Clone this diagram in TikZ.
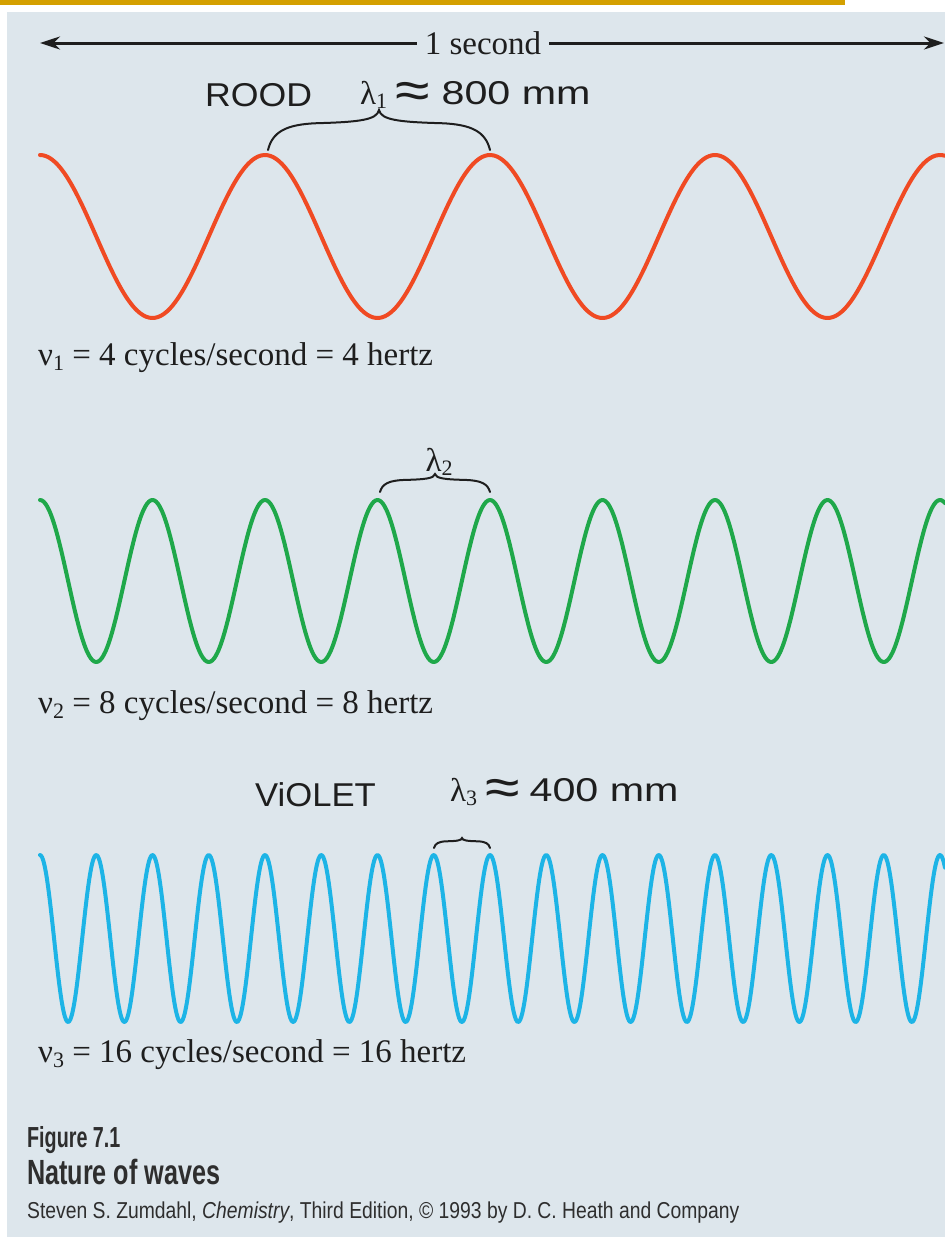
\documentclass[tikz,border=0pt]{standalone}
\usepackage{fontspec}
\setmainfont{Liberation Serif}
\newfontfamily\handfont{Liberation Sans}
\newfontfamily\capfont{Liberation Sans}
\usetikzlibrary{arrows.meta}
\definecolor{bgblue}{HTML}{DDE6EC}
\definecolor{barbrown}{HTML}{D4A000}
\definecolor{wavered}{HTML}{F04A23}
\definecolor{wavegreen}{HTML}{1FA84A}
\definecolor{waveblue}{HTML}{1DB4E6}
\definecolor{inkdark}{HTML}{1E1E1E}
\definecolor{capgrey}{HTML}{2E2E2E}
\newcommand\lowsub[1]{\raisebox{-0.14em}{\fontsize{22}{22}\selectfont #1}}
\newcommand\handwide[1]{\scalebox{1.25}[1]{\handfont #1}}
\newcommand\handapprox{\raisebox{-0.12em}{\scalebox{1.9}[1.6]{\handfont ≈}}}
% brace: left end x, width, bottom y, height
\newcommand\wavebrace[4]{%
  \begin{scope}[shift={(#1,#3)}, xscale=#2, yscale=#4]
    \draw[bracestyle] (0,0) .. controls (0.02,-0.45) and (0.08,-0.64) .. (0.22,-0.67)
      .. controls (0.42,-0.7) and (0.49,-0.76) .. (0.5,-1)
      .. controls (0.51,-0.76) and (0.58,-0.7) .. (0.78,-0.67)
      .. controls (0.92,-0.64) and (0.98,-0.45) .. (1,0);
  \end{scope}}
\begin{document}
\begin{tikzpicture}[x=1pt,y=-1pt,
  wave/.style={line width=4pt, line cap=round, line join=round},
  printed/.style={font=\fontsize{33}{38}\selectfont, text=inkdark, inner sep=0pt},
  hand/.style={font=\handfont\fontsize{33}{38}\selectfont, text=inkdark, inner sep=0pt},
  bracestyle/.style={line width=2pt, draw=inkdark, line cap=round},
  timearrow/.style={line width=3pt, draw=inkdark, -{Stealth[length=20pt,width=13pt]}},
  caption/.style={anchor=west, inner sep=0pt, text=capgrey}
]
\useasboundingbox (0,0) rectangle (945,1237);
\fill[white] (0,0) rectangle (945,1237);
\fill[bgblue] (7,12) rectangle (945,1237);
\fill[barbrown] (0,0) rectangle (845,5);

% time arrow
\node[printed, inner xsep=8pt] (onesec) at (483,43) {1 second};
\coordinate (arrL) at (40,43);
\coordinate (arrR) at (944,43);
\draw[timearrow] (onesec) -- (arrL);
\draw[timearrow] (onesec) -- (arrR);

% red wave
\node[hand, anchor=west] (rood) at (205,95) {\scalebox{1.08}[1]{ROOD}};
\node[printed, anchor=west] (lamone) at (360,95) {λ\lowsub{1}\hspace{8pt}\handapprox\hspace{12pt}\handwide{800 mm}};
\wavebrace{268}{222}{150}{40}
\draw[wave, wavered] plot[domain=40:945, samples=300, smooth] (\x, {236.5 - 81.5*cos((\x-40)/225*360)});
\node[printed, anchor=west] (nuone) at (38,358) {ν\lowsub{1} = 4 cycles/second = 4 hertz};

% green wave
\node[printed] (lamtwo) at (439,462) {λ\lowsub{2}};
\wavebrace{380}{110}{492}{18}
\draw[wave, wavegreen] plot[domain=40:945, samples=500, smooth] (\x, {581 - 81*cos((\x-40)/112.5*360)});
\node[printed, anchor=west] (nutwo) at (38,706) {ν\lowsub{2} = 8 cycles/second = 8 hertz};

% blue wave
\node[hand, anchor=west] (violet) at (255,795) {\scalebox{1.05}[1]{ViOLET}};
\node[printed, anchor=west] (lamthree) at (450,792) {λ\lowsub{3}\hspace{8pt}\handapprox\hspace{10pt}\handwide{400 mm}};
\wavebrace{434}{56}{848}{10}
\draw[wave, waveblue] plot[domain=40:945, samples=800, smooth] (\x, {938.5 - 83.5*cos((\x-40)/56.25*360)});
\node[printed, anchor=west] (nuthree) at (38,1055) {ν\lowsub{3} = 16 cycles/second = 16 hertz};

% caption
\node[caption] (figno) at (27,1140) {\scalebox{0.68}[1]{\capfont\bfseries\fontsize{29}{32}\selectfont Figure 7.1}};
\node[caption] (figtitle) at (27,1172) {\scalebox{0.72}[1]{\capfont\bfseries\fontsize{35}{38}\selectfont Nature of waves}};
\node[caption] (credit) at (27,1213) {\scalebox{0.84}[1]{\capfont\fontsize{23}{26}\selectfont Steven S. Zumdahl, \textit{Chemistry}, Third Edition, © 1993 by D. C. Heath and Company}};
\end{tikzpicture}
\end{document}
